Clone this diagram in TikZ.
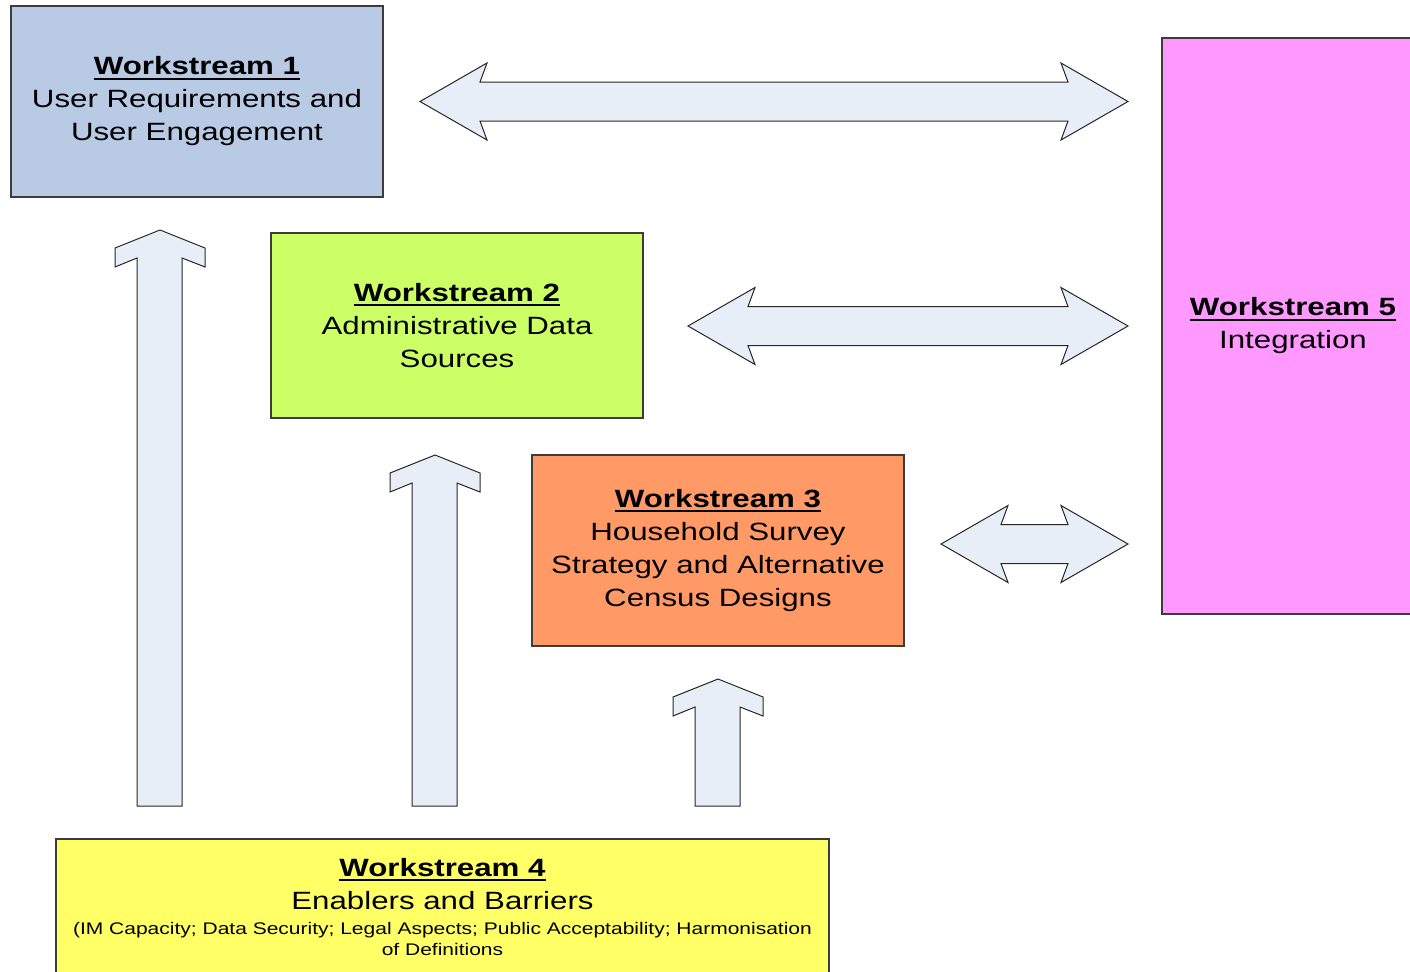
\documentclass[tikz,border=0pt]{standalone}
\usepackage{fontspec}
\setmainfont{Liberation Sans}[FakeStretch=1.25]
\usepackage{tikz}
\usepackage{xcolor}

\definecolor{wsone}{RGB}{185,202,228}
\definecolor{wstwo}{RGB}{204,255,102}
\definecolor{wsthree}{RGB}{255,153,102}
\definecolor{wsfour}{RGB}{255,255,102}
\definecolor{wsfive}{RGB}{255,153,255}
\definecolor{arrowfill}{RGB}{231,238,248}
\definecolor{boxline}{RGB}{60,60,60}

\newcommand{\wshead}[1]{\vtop{\hbox{\textbf{#1}}\kern1.2pt\hrule height 1.1pt}}
\newcommand{\wssmall}{\fontsize{8.4pt}{10.5pt}\selectfont}

\begin{document}
\begin{tikzpicture}[
			x=0.5pt, y=-0.5pt,
			wsbox/.style={draw=boxline,line width=0.6pt,inner sep=0pt,align=center,
					font=\fontsize{12.5pt}{16.5pt}\selectfont},
			blockarrow/.style={draw=black!85,fill=arrowfill,line width=0.5pt,line join=miter}
		]

		\useasboundingbox (0,0) rectangle (1410,971);
		\clip (0,0) rectangle (1410,971);

		\node[wsbox,fill=wsone,minimum width=186pt,minimum height=95.5pt] (ws1) at (197,101.5)
		{\wshead{Workstream 1}\\ User Requirements and\\ User Engagement};

		\node[wsbox,fill=wstwo,minimum width=186pt,minimum height=92.5pt] (ws2) at (457,325.5)
		{\wshead{Workstream 2}\\ Administrative Data\\ Sources};

		\node[wsbox,fill=wsthree,minimum width=186pt,minimum height=95.5pt] (ws3) at (718,550.5)
		{\wshead{Workstream 3}\\ Household Survey\\ Strategy and Alternative\\ Census Designs};

		\node[wsbox,fill=wsfour,minimum width=386.5pt,minimum height=68pt] (ws4) at (442.5,907)
		{\wshead{Workstream 4}\\ Enablers and Barriers\\[-3.75pt]
			\wssmall (IM Capacity; Data Security; Legal Aspects; Public Acceptability; Harmonisation\\[-6pt]
			\wssmall of Definitions};

		\node[wsbox,fill=wsfive,minimum width=131pt,minimum height=288pt] (ws5) at (1293,326)
		{\wshead{Workstream 5}\\ Integration};

		% two-way arrows towards workstream 5
		\draw[blockarrow] (420,101.5) -- (487,63) -- (480,82) -- (1068,82) -- (1061,63) -- (1128,101.5)
		-- (1061,140) -- (1068,121) -- (480,121) -- (487,140) -- cycle;
		\draw[blockarrow] (688,326) -- (755,287.5) -- (748,306.5) -- (1068,306.5) -- (1061,287.5) -- (1128,326)
		-- (1061,364.5) -- (1068,345.5) -- (748,345.5) -- (755,364.5) -- cycle;
		\draw[blockarrow] (941,544) -- (1008,505.5) -- (1001,524.5) -- (1068,524.5) -- (1061,505.5) -- (1128,544)
		-- (1061,582.5) -- (1068,563.5) -- (1001,563.5) -- (1008,582.5) -- cycle;

		% arrows up from workstream 4
		\draw[blockarrow] (160,230) -- (115,248) -- (115,267) -- (137,258) -- (137,806)
		-- (182,806) -- (182,258) -- (205,267) -- (205,248) -- cycle;
		\draw[blockarrow] (435,455) -- (390,473) -- (390,492) -- (412,483) -- (412,806)
		-- (457,806) -- (457,483) -- (480,492) -- (480,473) -- cycle;
		\draw[blockarrow] (718,679) -- (673,697) -- (673,716) -- (695,707) -- (695,806)
		-- (740,806) -- (740,707) -- (763,716) -- (763,697) -- cycle;

	\end{tikzpicture}
\end{document}
